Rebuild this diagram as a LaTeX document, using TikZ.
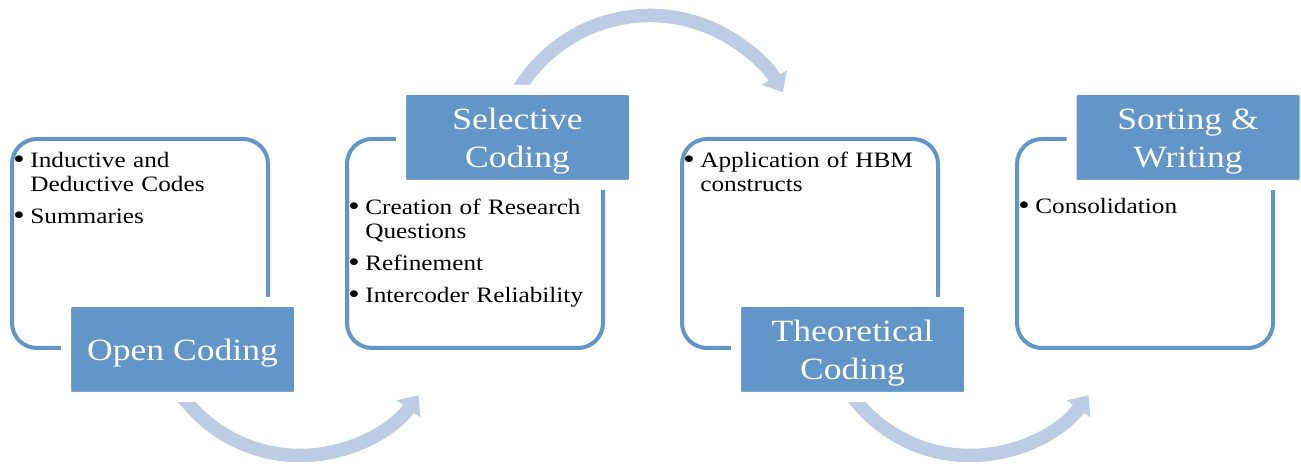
\documentclass[tikz,border=0pt]{standalone}
\usepackage{fontspec}
\setmainfont[FakeStretch=1.15]{Liberation Serif}
\usetikzlibrary{arrows.meta}

\definecolor{boxblue}{RGB}{98,149,200}
\definecolor{arrowblue}{RGB}{188,204,228}

\tikzset{
  frame/.style={draw=boxblue, line width=0.08cm, rounded corners=0.5cm, fill=white,
    minimum width=5.12cm, minimum height=4.18cm, inner sep=0pt},
  stage/.style={fill=boxblue, draw=white, line width=0.2cm, rounded corners=0.12cm,
    minimum width=4.66cm, minimum height=1.9cm, text=white, align=center,
    font=\fontsize{17.6}{21.6}\selectfont},
  items/.style={anchor=north west, inner sep=0pt, text width=5.5cm,
    font={\fontsize{12.5}{13.7}\selectfont\raggedright\setlength{\parskip}{4.5pt}}},
  flow/.style={draw=arrowblue, line width=0.27cm, -{Triangle[width=0.56cm,length=0.34cm]}}
}
\newcommand{\bitem}[1]{\par\hangindent=0.34cm\hangafter=1\noindent
  \makebox[0.34cm][l]{\raisebox{-0.4pt}{\fontsize{16}{13.7}\selectfont\textbullet}}\strut#1\par}
\newcommand{\dn}[1]{\raisebox{-2.3pt}[\height][\depth]{#1}}

\begin{document}
\begin{tikzpicture}

    \useasboundingbox (0,0) rectangle (26.02,9.36);

    % frames
    \node[frame] (f1) at (2.8,4.49) {};
    \node[frame] (f2) at (9.5,4.49) {};
    \node[frame] (f3) at (16.2,4.49) {};
    \node[frame] (f4) at (22.9,4.49) {};

    % arrows between the stages
    \coordinate (c1) at (6.0,3.18);
    \coordinate (c2) at (13.0,5.98);
    \coordinate (c3) at (19.4,3.18);
    \draw[flow] (c1) ++(212:2.93) arc[start angle=212, end angle=324, radius=2.93];
    \draw[flow] (c2) ++(155:3.07) arc[start angle=155, end angle=30, radius=3.07];
    \draw[flow] (c3) ++(212:2.93) arc[start angle=212, end angle=324, radius=2.93];

    % stage labels
    \node[stage] (open) at (3.65,2.37) {\dn{Open Coding}};
    \node[stage] (selective) at (10.35,6.61) {\dn{Selective}\\\dn{Coding}};
    \node[stage] (theoretical) at (17.05,2.37) {\dn{Theoretical}\\\dn{Coding}};
    \node[stage] (sorting) at (23.76,6.61) {\dn{Sorting \&}\\\dn{Writing}};

    % bullet lists
    \node[items] (t1) at (0.26,6.66) {\bitem{Inductive and\newline Deductive Codes}\bitem{Summaries}};
    \node[items] (t2) at (6.96,5.72) {\bitem{Creation of Research\newline Questions}\bitem{Refinement}\bitem{Intercoder Reliability}};
    \node[items] (t3) at (13.66,6.66) {\bitem{Application of HBM\newline constructs}};
    \node[items] (t4) at (20.36,5.73) {\bitem{Consolidation}};

\end{tikzpicture}
\end{document}
